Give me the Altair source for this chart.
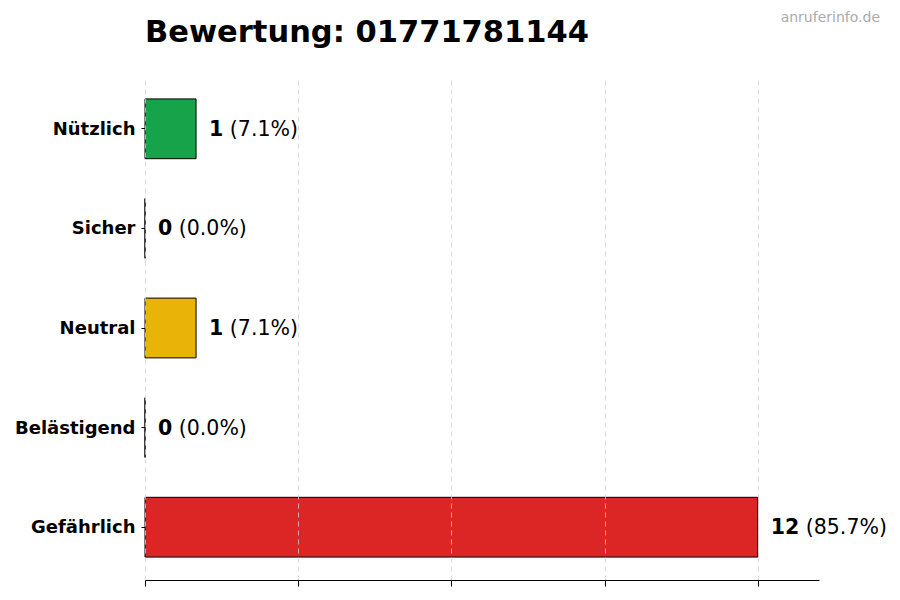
import altair as alt
import pandas as pd

categories = ["Nützlich", "Sicher", "Neutral", "Belästigend", "Gefährlich"]
counts = [1, 0, 1, 0, 12]
colors = ["#16a34a", "#22c55e", "#eab308", "#f97316", "#dc2626"]
x_ticks = [0, 3, 6, 9, 12]
title_text = "Bewertung: 01771781144"
watermark = "anruferinfo.de"

total = sum(counts)
df = pd.DataFrame({
    "cat": categories,
    "count": counts,
    "color": colors,
    "num": [str(c) for c in counts],
    "pct": [f"({c / total * 100:.1f}%)" for c in counts],
})

FONT = "DejaVu Sans"
W, H = 674, 504
XMAX = 13.2
PX_PER_UNIT = W / XMAX
FS = 20.5

xscale = alt.Scale(domain=[0, XMAX], nice=False, zero=True)
yscale = alt.Scale(domain=categories, paddingInner=0.4, paddingOuter=0.23)

base = alt.Chart(df)

bars = base.mark_bar(stroke="black", strokeWidth=1, cornerRadius=0).encode(
    x=alt.X("count:Q", scale=xscale,
            axis=alt.Axis(values=x_ticks, labels=False, title=None, grid=True,
                          gridDash=[5, 4], gridColor="#d0d0d0", gridWidth=0.8,
                          domainColor="black", domainWidth=1, tickColor="black",
                          tickSize=6, tickWidth=1, zindex=1)),
    y=alt.Y("cat:N", scale=yscale, sort=categories,
            axis=alt.Axis(title=None, domain=False, tickColor="black", tickSize=4,
                          tickWidth=1, labelFont=FONT, labelFontSize=18,
                          labelFontWeight="bold", labelColor="black",
                          labelPadding=6, labelOffset=1, grid=False)),
    color=alt.Color("color:N", scale=None),
)

num_text = base.mark_text(align="left", baseline="middle", dx=13, dy=1, font=FONT,
                          fontSize=FS, fontWeight="bold", color="black",
                          clip=False).encode(
    x=alt.X("count:Q", scale=xscale),
    y=alt.Y("cat:N", scale=yscale, sort=categories),
    text="num:N",
)

pct_text = base.transform_calculate(
    xp=f"datum.count + (13 + length(datum.num) * {0.696 * FS} + {0.318 * FS}) / {PX_PER_UNIT}"
).mark_text(align="left", baseline="middle", dy=1, font=FONT, fontSize=FS,
            fontWeight="normal", color="black", clip=False).encode(
    x=alt.X("xp:Q", scale=xscale),
    y=alt.Y("cat:N", scale=yscale, sort=categories),
    text="pct:N",
)

wm = alt.Chart(pd.DataFrame({"t": [watermark]})).mark_text(
    align="right", baseline="alphabetic", font=FONT, fontSize=14, color="#aaaaaa",
    clip=False
).encode(x=alt.value(735), y=alt.value(-54), text="t:N")

chart = alt.layer(bars, num_text, pct_text, wm).properties(
    width=W, height=H,
    title=alt.TitleParams(title_text, anchor="start", frame="group", font=FONT,
                          fontSize=30.5, fontWeight="bold", color="black",
                          baseline="alphabetic", offset=-61),
    autosize=alt.AutoSizeParams(type="none"),
    padding={"left": 137, "top": 68, "right": 73, "bottom": 12},
).configure_view(stroke=None)

chart.save("out.html", embed_options={"renderer": "svg", "actions": False})
